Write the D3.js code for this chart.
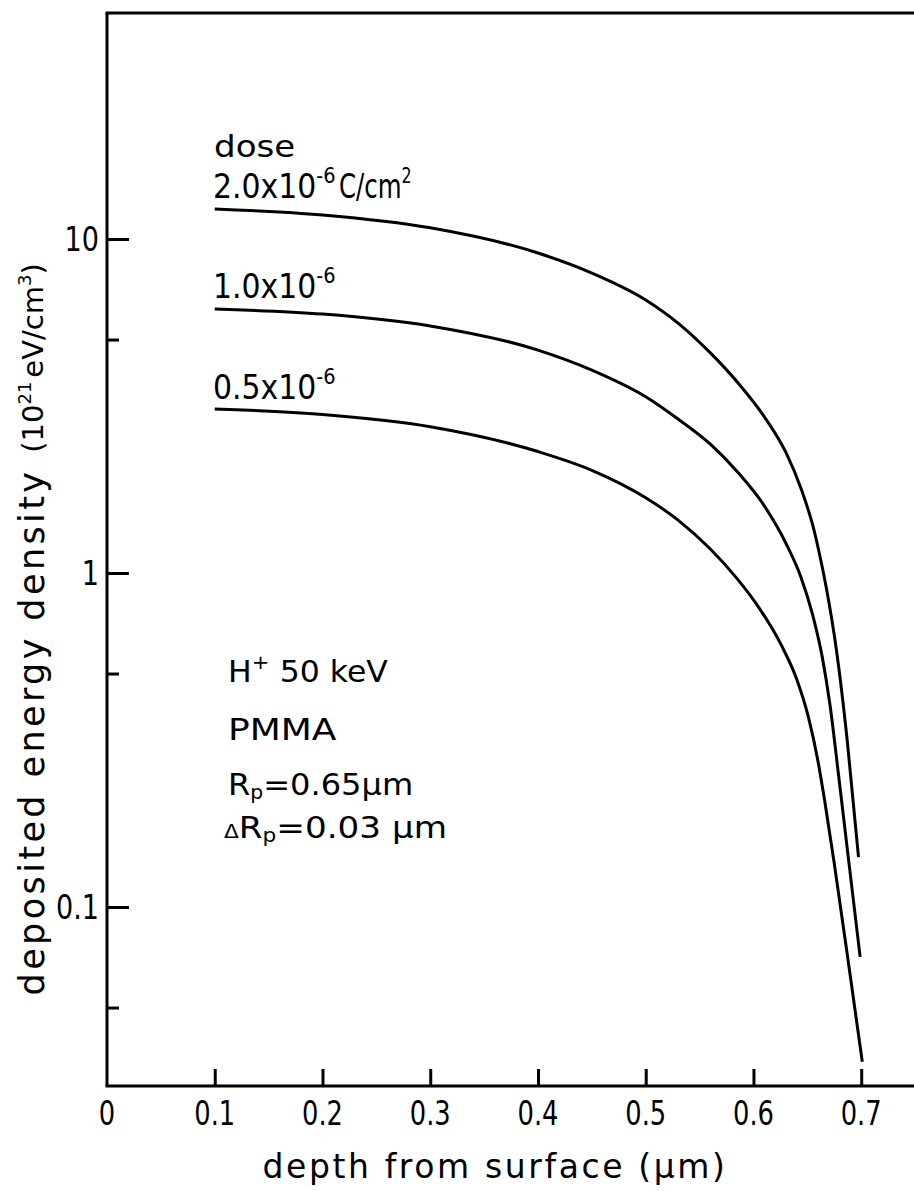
<!DOCTYPE html>
<html>
<head>
<meta charset="utf-8">
<script src="https://cdn.jsdelivr.net/npm/d3@7"></script>
<style>
  body { margin: 0; background: #fff; }
  svg { display: block; }
  text { font-family: "DejaVu Sans", sans-serif; fill: #000; }
</style>
</head>
<body>
<svg id="chart" width="914" height="1191"></svg>
<script>
// depth (um) and deposited energy density (10^21 eV/cm^3)
const depthHigh = [0.10, 0.20, 0.30, 0.40, 0.45, 0.50, 0.53, 0.56, 0.585, 0.61, 0.63, 0.645, 0.655, 0.66, 0.668, 0.677, 0.687, 0.6975];
const doseHigh  = [12.3, 11.8, 10.8, 9.08, 7.91, 6.57, 5.60, 4.56, 3.73, 2.94, 2.30, 1.76, 1.39, 1.19, 0.889, 0.588, 0.316, 0.141];

const depthMid = [0.10, 0.20, 0.30, 0.40, 0.45, 0.50, 0.53, 0.56, 0.585, 0.61, 0.63, 0.644, 0.655, 0.664, 0.671, 0.679, 0.687, 0.699];
const doseMid  = [6.17, 5.96, 5.49, 4.65, 4.05, 3.37, 2.89, 2.43, 2.01, 1.59, 1.23, 0.973, 0.748, 0.557, 0.403, 0.248, 0.150, 0.0709];

const depthLow = [0.10, 0.20, 0.30, 0.40, 0.45, 0.50, 0.53, 0.56, 0.585, 0.605, 0.626, 0.64, 0.651, 0.66, 0.666, 0.675, 0.69, 0.701];
const doseLow  = [3.10, 2.98, 2.74, 2.31, 2.03, 1.68, 1.44, 1.18, 0.960, 0.788, 0.607, 0.482, 0.370, 0.272, 0.209, 0.135, 0.0617, 0.0344];

const xTicks = [0.1, 0.2, 0.3, 0.4, 0.5, 0.6, 0.7];
const xTickLabels = ["0.1", "0.2", "0.3", "0.4", "0.5", "0.6", "0.7"];
const yMajor = [0.1, 1, 10];
const yMajorLabels = ["0.1", "1", "10"];
const yMinor = [0.05, 0.5, 5];

const svg = d3.select("#chart");

// Escales
const x = d3.scaleLinear().domain([0, 0.749]).range([107, 914]);
const y = d3.scaleLog().domain([0.1, 10]).range([907, 239]);
const yTop = 13, yBottom = 1086;

// text amb escalat horitzontal (la lletra original és estreta o ampla)
function label(px, py, size, sx, anchor) {
    return svg.append("text")
        .attr("transform", `translate(${px},${py}) scale(${sx},1)`)
        .attr("text-anchor", anchor || "start")
        .attr("font-size", size);
}

// Marc: eix esquerre, inferior i superior
const frame = svg.append("g").attr("stroke", "#000").attr("stroke-width", 3).attr("fill", "none");
frame.append("line").attr("x1", x(0)).attr("x2", x(0)).attr("y1", yTop).attr("y2", yBottom);
frame.append("line").attr("x1", x(0) - 1.5).attr("x2", 914).attr("y1", yBottom).attr("y2", yBottom);
frame.append("line").attr("x1", x(0) - 1.5).attr("x2", 914).attr("y1", yTop).attr("y2", yTop);

// Ticks (cap endins)
const yAxisMajor = svg.append("g")
    .attr("transform", `translate(${x(0)},0)`)
    .call(d3.axisLeft(y).tickValues(yMajor).tickSize(-22).tickFormat(""));
const yAxisMinor = svg.append("g")
    .attr("transform", `translate(${x(0)},0)`)
    .call(d3.axisLeft(y).tickValues(yMinor).tickSize(-12).tickFormat(""));
const xAxis = svg.append("g")
    .attr("transform", `translate(0,${yBottom})`)
    .call(d3.axisBottom(x).tickValues(xTicks).tickSize(-17).tickFormat(""));

[yAxisMajor, yAxisMinor, xAxis].forEach(g => {
    g.select(".domain").remove();
    g.selectAll(".tick line").attr("stroke", "#000").attr("stroke-width", 3);
});

// Etiquetes dels ticks
xTicks.forEach((v, i) => label(x(v), 1125, 33, 0.78, "middle").text(xTickLabels[i]));
label(x(0), 1125, 33, 0.78, "middle").text("0");
yMajor.forEach((v, i) => label(99, y(v) + 12, 33, 0.82, "end").text(yMajorLabels[i]));

// Corbes
const line = d3.line()
    .x(d => x(d[0]))
    .y(d => y(d[1]))
    .curve(d3.curveMonotoneX);

const series = [
    d3.zip(depthHigh, doseHigh),
    d3.zip(depthMid, doseMid),
    d3.zip(depthLow, doseLow)
];

svg.selectAll(".curve")
    .data(series)
    .enter()
    .append("path")
    .attr("class", "curve")
    .attr("d", line)
    .attr("fill", "none")
    .attr("stroke", "#000")
    .attr("stroke-width", 3);

// Etiquetes de dosi
label(214, 157, 31, 1.1).text("dose");

function doseLabel(ypos, mant) {
    const t = label(213, ypos, 34, 0.88);
    t.append("tspan").text(mant + "x10");
    t.append("tspan").attr("font-size", 22).attr("dy", -15).text("-6");
}
doseLabel(198, "2.0");
doseLabel(298, "1.0");
doseLabel(399, "0.5");

const unit = label(339, 198, 34, 0.72);
unit.append("tspan").text("C/cm");
unit.append("tspan").attr("font-size", 22).attr("dy", -15).text("2");

// Anotacions
const h = label(228, 682, 30, 1.05);
h.append("tspan").text("H");
h.append("tspan").attr("font-size", 20).attr("dy", -13).text("+");
h.append("tspan").attr("dy", 13).attr("dx", 10).text("50 keV");

label(228, 740, 30, 1.2).text("PMMA");

const rp = label(228, 795, 30, 1.07);
rp.append("tspan").text("R");
rp.append("tspan").attr("font-size", 19).attr("dy", 4).text("p");
rp.append("tspan").attr("dy", -4).text("=0.65\u00b5m");

const drp = label(224, 838, 30, 1.14);
drp.append("tspan").attr("font-size", 19).text("\u0394");
drp.append("tspan").text("R");
drp.append("tspan").attr("font-size", 19).attr("dy", 4).text("p");
drp.append("tspan").attr("dy", -4).text("=0.03 \u00b5m");

// Títols d'eixos
svg.append("text")
    .attr("x", 495)
    .attr("y", 1178)
    .attr("text-anchor", "middle")
    .attr("font-size", 33)
    .attr("letter-spacing", 2.6)
    .text("depth from surface (\u00b5m)");

svg.append("text")
    .attr("transform", "translate(44,732) rotate(-90)")
    .attr("text-anchor", "middle")
    .attr("font-size", 35)
    .attr("letter-spacing", 3.4)
    .text("deposited energy density");

const yUnit = svg.append("text")
    .attr("transform", "translate(43,358) rotate(-90)")
    .attr("text-anchor", "middle")
    .attr("font-size", 29);
yUnit.append("tspan").text("(10");
yUnit.append("tspan").attr("font-size", 18).attr("dy", -12).text("21");
yUnit.append("tspan").attr("dy", 12).attr("dx", 4).text("eV/cm");
yUnit.append("tspan").attr("font-size", 18).attr("dy", -12).text("3");
yUnit.append("tspan").attr("dy", 12).text(")");
</script>
</body>
</html>
